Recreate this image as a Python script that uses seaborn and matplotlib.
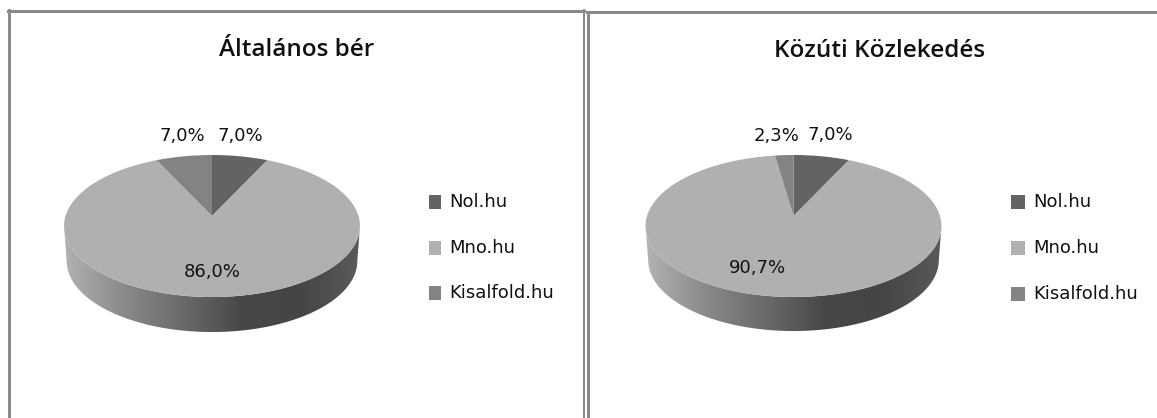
import numpy as np
import matplotlib
matplotlib.use("Agg")
import matplotlib.pyplot as plt
from matplotlib.patches import Polygon
from matplotlib.transforms import Transform
from matplotlib.colors import LinearSegmentedColormap
import seaborn as sns

sites = ["Nol.hu", "Mno.hu", "Kisalfold.hu"]
titles = ["Általános bér", "Közúti Közlekedés"]
values_general = [7.0, 86.0, 7.0]
values_road = [7.0, 90.7, 2.3]
site_colors = ["#636363", "#b0b0b0", "#838383"]

W, H = 1157, 418
sns.set_theme(style="white")
plt.rcParams["font.family"] = ["DejaVu Sans"]
palette = sns.color_palette(site_colors)
side_cmap = LinearSegmentedColormap.from_list(
    "side", ["#b2b2b2", "#8a8a8a", "#6a6a6a", "#484848", "#454545", "#5a5a5a"])


class Tilted(Transform):
    """Projects the unit pie disc to a tilted disc in pixel coordinates."""
    input_dims = output_dims = 2
    has_inverse = False
    is_separable = False

    def __init__(self, cx, cy, rx, ay, k=0.141):
        super().__init__()
        self.cx, self.cy, self.rx, self.ay, self.k = cx, cy, rx, ay, k

    def transform_non_affine(self, xy):
        xy = np.asarray(xy, float)
        d = 1 + self.k * xy[:, 1]
        return np.column_stack([self.cx + self.rx * xy[:, 0] / d,
                                self.cy - self.ay * xy[:, 1] / d])


def draw_panel(box, vals, title, cx, cy, title_xy, lab_xy, leg_x, leg_ys, leg_w, depth, right_spine):
    x0, y0, x1, y1 = box
    ax = plt.gcf().add_axes([x0 / W, 1 - y1 / H, (x1 - x0) / W, (y1 - y0) / H])
    wedges, _ = ax.pie(vals, colors=palette, startangle=90, counterclock=False,
                       radius=1, frame=True,
                       wedgeprops=dict(linewidth=0, antialiased=True))
    ax.set_aspect("auto")
    tilt = Tilted(cx, cy, 146.5, 69.6)
    for w in wedges:
        w.set_transform(tilt + ax.transData)
        w.set_zorder(3)

    # side wall of the disc
    t = np.linspace(0, 1, 200)
    ang = np.pi + np.arcsin(0.141) + t * (np.pi - 2 * np.arcsin(0.141))
    rim = np.column_stack([np.cos(ang), np.sin(ang)])
    top = tilt.transform_non_affine(rim)
    low = top.copy()
    low[:, 0] = cx + (low[:, 0] - cx) * 0.982
    low[:, 1] += depth
    poly = Polygon(np.vstack([top, low[::-1]]), closed=True, transform=ax.transData,
                   facecolor="none", edgecolor="none")
    ax.add_patch(poly)
    im = ax.imshow(np.linspace(0, 1, 256)[None, :], cmap=side_cmap, aspect="auto",
                   extent=(cx - 148, cx + 148, cy + 130, cy), zorder=2)
    im.set_clip_path(poly)

    ax.set_xlim(x0, x1)
    ax.set_ylim(y1, y0)
    ax.set_xticks([])
    ax.set_yticks([])
    for name, sp in ax.spines.items():
        sp.set_color("#8a8a8a")
        sp.set_linewidth(2.16)
    ax.spines["bottom"].set_visible(False)
    ax.spines["right"].set_visible(right_spine)
    ax.spines["right"].set_linewidth(1.44)

    ax.text(*title_xy, title, ha="center", va="center", fontsize=17.5,
            family=["Open Sans", "DejaVu Sans"], fontweight="semibold", color="#111111")
    order = [2, 0, 1]
    for (lx, ly), i in zip(lab_xy, order):
        ax.text(lx, ly, f"{vals[i]:.1f}".replace(".", ",") + "%", ha="center", va="center",
                fontsize=13, color="#111111", zorder=5)
    for s, c, ly in zip(sites, palette, leg_ys):
        ax.add_patch(plt.Rectangle((leg_x, ly - 7), leg_w, 14, facecolor=c, edgecolor="none"))
        ax.text(leg_x + leg_w + 8.5, ly, s, ha="left", va="center", fontsize=13, color="#111111")
    return ax


fig = plt.figure(figsize=(W / 100, H / 100), dpi=100, facecolor="white")
draw_panel((8.5, 10.5, 584, 418), values_general, titles[0], 212, 216, (296.5, 50),
           [(182, 136), (240, 136), (212, 272)], 429, [202, 248, 293], 12, 35, True)
draw_panel((587.5, 11.5, 1158, 418), values_road, titles[1], 793.5, 216, (880, 51),
           [(777, 136), (830, 135), (757, 268)], 1011, [202, 248, 294], 14, 34, False)
fig.savefig("out.png", dpi=100, facecolor="white")
